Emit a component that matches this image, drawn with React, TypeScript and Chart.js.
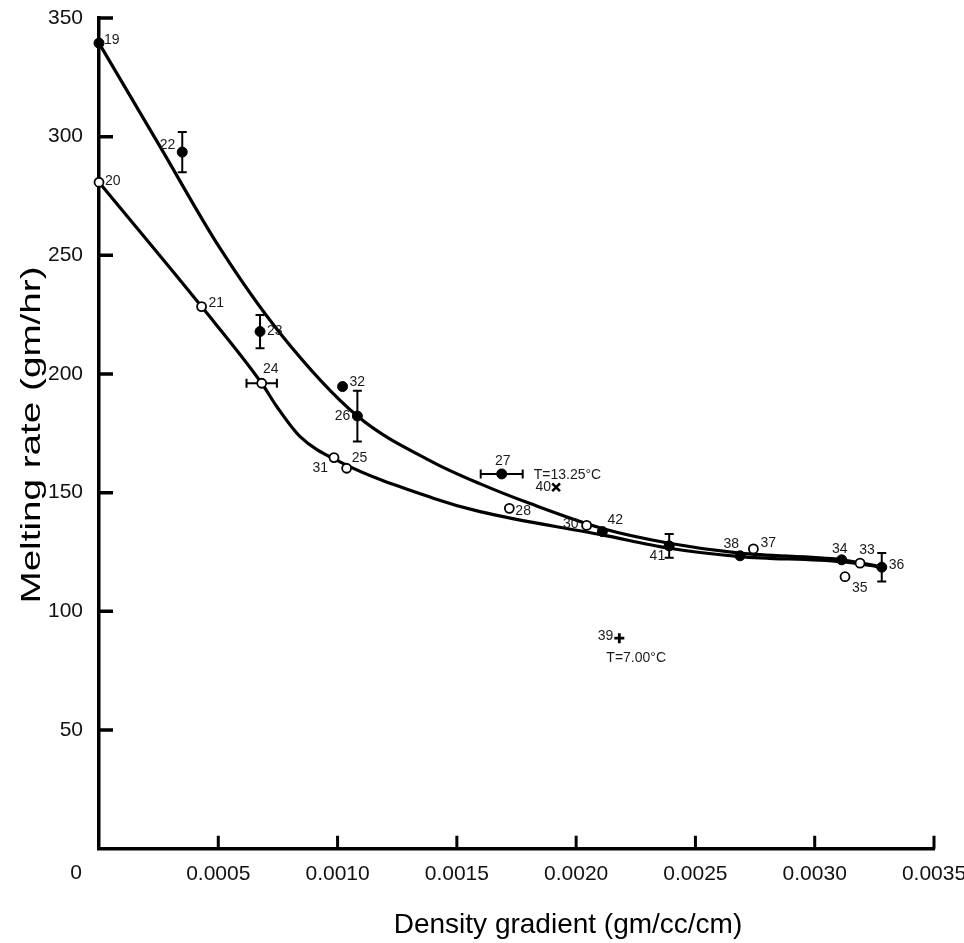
import React, { useEffect, useRef } from 'react';
import { Chart, registerables } from 'chart.js';

Chart.register(...registerables);

// ---- Data ----
const xTickValues = [0.0005, 0.001, 0.0015, 0.002, 0.0025, 0.003, 0.0035];
const yTickValues = [50, 100, 150, 200, 250, 300, 350];

// Closed circles (run numbers)
const closedLabels = ['19', '22', '23', '32', '26', '27', '42', '41', '38', '34', '36'];
const closedX = [0, 0.000349, 0.000675, 0.001021, 0.001083, 0.001688, 0.00211, 0.00239, 0.002687, 0.003113, 0.003281];
const closedY = [339.4, 293.5, 217.9, 194.7, 182.3, 157.9, 133.6, 127.6, 123.4, 121.7, 118.6];
const closedYErr = [0, 8.5, 7, 0, 10.7, 0, 0, 5, 0, 0, 6];
const closedXErr = [0, 0, 0, 0, 0, 0.000088, 0, 0, 0, 0, 0];

// Open circles
const openLabels = ['20', '21', '24', '31', '25', '28', '30', '37', '33', '35'];
const openX = [0, 0.00043, 0.000682, 0.000985, 0.001038, 0.00172, 0.002044, 0.002743, 0.00319, 0.003127];
const openY = [280.8, 228.4, 196.1, 164.8, 160.3, 143.4, 136.2, 126.3, 120.3, 114.6];
const openXErr = [0, 0, 0.0000637, 0, 0, 0, 0, 0, 0, 0];

// Special runs
const crossLabels = ['40'];
const crossX = [0.001916];
const crossY = [152.3];
const plusLabels = ['39'];
const plusX = [0.002181];
const plusY = [88.7];

// Temperature notes, attached to runs
const noteTexts = ['T=13.25°C', 'T=7.00°C'];
const noteRuns = ['27', '39'];

// Fitted curves
const upperCurveX = [0, 0.000256, 0.000507, 0.000759, 0.001083, 0.001401, 0.001601, 0.001807, 0.00211, 0.00239, 0.002686, 0.003113, 0.003281];
const upperCurveY = [339.4, 295.8, 253.0, 217.2, 182.3, 162.8, 153.6, 145.4, 134.9, 128.7, 124.5, 121.7, 118.8];
const lowerCurveX = [0, 0.00043, 0.000682, 0.000745, 0.000843, 0.00101, 0.001401, 0.001597, 0.00211, 0.00239, 0.002686, 0.003113, 0.003281];
const lowerCurveY = [280.8, 228.4, 196.1, 186.3, 173.6, 163.0, 147.7, 142.0, 132.2, 126.6, 123.1, 120.9, 118.6];

const xTitle = 'Density gradient (gm/cc/cm)';
const yTitle = 'Melting rate (gm/hr)';
const originLabel = '0';

// ---- Styling / placement ----
const FONT = '"Liberation Sans", Arial, Helvetica, sans-serif';
type Place = { dx: number; dy: number; align: CanvasTextAlign };
const labelPlacement: Record<string, Place> = {
  '19': { dx: 5, dy: -3, align: 'left' },
  '22': { dx: -7, dy: -7, align: 'right' },
  '23': { dx: 7, dy: 0, align: 'left' },
  '32': { dx: 7, dy: -4, align: 'left' },
  '26': { dx: -7, dy: 0, align: 'right' },
  '27': { dx: 1, dy: -13, align: 'center' },
  '42': { dx: 5, dy: -11, align: 'left' },
  '41': { dx: -4, dy: 10, align: 'right' },
  '38': { dx: -1, dy: -12, align: 'right' },
  '34': { dx: -2, dy: -11, align: 'center' },
  '36': { dx: 7, dy: -2, align: 'left' },
  '20': { dx: 6, dy: -1, align: 'left' },
  '21': { dx: 7, dy: -3, align: 'left' },
  '24': { dx: 9, dy: -14, align: 'center' },
  '31': { dx: -6, dy: 11, align: 'right' },
  '25': { dx: 5, dy: -10, align: 'left' },
  '28': { dx: 6, dy: 3, align: 'left' },
  '30': { dx: -8, dy: -1, align: 'right' },
  '37': { dx: 7, dy: -6, align: 'left' },
  '33': { dx: 7, dy: -13, align: 'center' },
  '35': { dx: 7, dy: 11, align: 'left' },
  '40': { dx: -5, dy: 0, align: 'right' },
  '39': { dx: -6, dy: -2, align: 'right' },
};
const notePlacement: Place[] = [
  { dx: 32, dy: 1, align: 'left' },
  { dx: -13, dy: 20, align: 'left' },
];

const zip = (xs: number[], ys: number[]) => xs.map((x, i) => ({ x, y: ys[i] }));

const annotatePlugin = {
  id: 'annotate',
  beforeDatasetsDraw(chart: any) {
    const { ctx, scales } = chart;
    const sx = scales.x;
    const sy = scales.y;
    ctx.save();
    ctx.strokeStyle = '#000';
    ctx.lineWidth = 2;
    const cap = 4.5;
    const drawErr = (vx: number, vy: number, ex: number, ey: number) => {
      const px = sx.getPixelForValue(vx);
      const py = sy.getPixelForValue(vy);
      ctx.beginPath();
      if (ey > 0) {
        const t = sy.getPixelForValue(vy + ey);
        const b = sy.getPixelForValue(vy - ey);
        ctx.moveTo(px, t); ctx.lineTo(px, b);
        ctx.moveTo(px - cap, t); ctx.lineTo(px + cap, t);
        ctx.moveTo(px - cap, b); ctx.lineTo(px + cap, b);
      }
      if (ex > 0) {
        const l = sx.getPixelForValue(vx - ex);
        const r = sx.getPixelForValue(vx + ex);
        ctx.moveTo(l, py); ctx.lineTo(r, py);
        ctx.moveTo(l, py - cap); ctx.lineTo(l, py + cap);
        ctx.moveTo(r, py - cap); ctx.lineTo(r, py + cap);
      }
      ctx.stroke();
    };
    closedX.forEach((x, i) => drawErr(x, closedY[i], closedXErr[i], closedYErr[i]));
    openX.forEach((x, i) => drawErr(x, openY[i], openXErr[i], 0));
    ctx.restore();
  },
  afterDatasetsDraw(chart: any) {
    const { ctx, scales } = chart;
    const sx = scales.x;
    const sy = scales.y;
    ctx.save();
    ctx.font = `14px ${FONT}`;
    ctx.fillStyle = '#1a1a1a';
    ctx.textBaseline = 'middle';
    const pos: Record<string, [number, number]> = {};
    const put = (labels: string[], xs: number[], ys: number[]) => {
      labels.forEach((lab, i) => {
        const px = sx.getPixelForValue(xs[i]);
        const py = sy.getPixelForValue(ys[i]);
        pos[lab] = [px, py];
        const p = labelPlacement[lab] || { dx: 6, dy: 0, align: 'left' };
        ctx.textAlign = p.align;
        ctx.fillText(lab, px + p.dx, py + p.dy);
      });
    };
    put(closedLabels, closedX, closedY);
    put(openLabels, openX, openY);
    put(crossLabels, crossX, crossY);
    put(plusLabels, plusX, plusY);
    noteTexts.forEach((t, i) => {
      const anchor = pos[noteRuns[i]];
      if (!anchor) return;
      const p = notePlacement[i];
      ctx.textAlign = p.align;
      ctx.fillText(t, anchor[0] + p.dx, anchor[1] + p.dy);
    });
    ctx.restore();
  },
  afterDraw(chart: any) {
    const { ctx, scales, chartArea } = chart;
    const sx = scales.x;
    const sy = scales.y;
    ctx.save();
    ctx.strokeStyle = '#000';
    // inward tick marks
    ctx.lineWidth = 3.5;
    ctx.beginPath();
    yTickValues.forEach((v) => {
      const py = sy.getPixelForValue(v);
      ctx.moveTo(chartArea.left, py);
      ctx.lineTo(chartArea.left + 14, py);
    });
    ctx.stroke();
    ctx.lineWidth = 3;
    ctx.beginPath();
    xTickValues.forEach((v) => {
      const px = sx.getPixelForValue(v);
      ctx.moveTo(px, chartArea.bottom);
      ctx.lineTo(px, chartArea.bottom - 13);
    });
    ctx.stroke();
    // origin label
    ctx.fillStyle = '#111';
    ctx.font = `21px ${FONT}`;
    ctx.textAlign = 'center';
    ctx.textBaseline = 'middle';
    ctx.fillText(originLabel, chartArea.left - 23, chartArea.bottom + 25);
    // axis titles
    ctx.fillStyle = '#000';
    ctx.font = `28px ${FONT}`;
    ctx.textAlign = 'center';
    ctx.textBaseline = 'alphabetic';
    ctx.fillText(xTitle, 568, 933);
    ctx.translate(40, 435);
    ctx.rotate(-Math.PI / 2);
    ctx.scale(1.38, 1);
    ctx.fillText(yTitle, 0, 0);
    ctx.restore();
  },
};

export default function App() {
  const ref = useRef<HTMLCanvasElement>(null);
  useEffect(() => {
    if (!ref.current) return;
    const tickFont = { family: FONT, size: 21 };
    const chart = new Chart(ref.current, {
      type: 'scatter',
      data: {
        datasets: [
          {
            label: 'closed',
            data: zip(closedX, closedY),
            pointStyle: 'circle',
            pointRadius: 5,
            pointBackgroundColor: '#000',
            pointBorderColor: '#000',
            pointBorderWidth: 1,
            clip: false,
            order: 0,
          },
          {
            label: 'open',
            data: zip(openX, openY),
            pointStyle: 'circle',
            pointRadius: 4.5,
            pointBackgroundColor: '#fff',
            pointBorderColor: '#000',
            pointBorderWidth: 1.8,
            clip: false,
            order: 0,
          },
          {
            label: 'cross',
            data: zip(crossX, crossY),
            pointStyle: 'crossRot',
            pointRadius: 5.5,
            pointBorderColor: '#000',
            pointBorderWidth: 2.6,
            clip: false,
            order: 0,
          },
          {
            label: 'plus',
            data: zip(plusX, plusY),
            pointStyle: 'cross',
            pointRadius: 5,
            pointBorderColor: '#000',
            pointBorderWidth: 2.8,
            clip: false,
            order: 0,
          },
          {
            label: 'upper',
            data: zip(upperCurveX, upperCurveY),
            showLine: true,
            pointRadius: 0,
            borderColor: '#000',
            borderWidth: 3.2,
            cubicInterpolationMode: 'monotone',
            clip: false,
            order: 1,
          },
          {
            label: 'lower',
            data: zip(lowerCurveX, lowerCurveY),
            showLine: true,
            pointRadius: 0,
            borderColor: '#000',
            borderWidth: 3.2,
            cubicInterpolationMode: 'monotone',
            clip: false,
            order: 1,
          },
        ] as any,
      },
      options: {
        animation: false,
        responsive: false,
        devicePixelRatio: window.devicePixelRatio || 1,
        layout: { padding: { top: 18, right: 30, left: 0, bottom: 0 } },
        plugins: { legend: { display: false }, tooltip: { enabled: false } },
        scales: {
          x: {
            type: 'linear',
            min: 0,
            max: 0.0035,
            afterBuildTicks: (s: any) => {
              s.ticks = [0, ...xTickValues].map((v) => ({ value: v }));
            },
            afterFit: (s: any) => {
              s.height = 94.3;
              s.paddingLeft = 0;
              s.paddingRight = 0;
            },
            ticks: {
              autoSkip: false,
              maxRotation: 0,
              padding: 13,
              color: '#111',
              font: tickFont,
              callback: (v: any) => (Number(v) === 0 ? '' : Number(v).toFixed(4)),
            },
            grid: { display: false, drawTicks: false },
            border: { display: true, color: '#000', width: 3.5 },
          },
          y: {
            type: 'linear',
            min: 0,
            max: 350,
            afterBuildTicks: (s: any) => {
              s.ticks = [0, ...yTickValues].map((v) => ({ value: v }));
            },
            afterFit: (s: any) => {
              s.width = 99;
              s.paddingTop = 0;
              s.paddingBottom = 0;
            },
            ticks: {
              autoSkip: false,
              padding: 16,
              color: '#111',
              font: tickFont,
              callback: (v: any) => (Number(v) === 0 ? '' : String(v)),
            },
            grid: { display: false, drawTicks: false },
            border: { display: true, color: '#000', width: 3.5 },
          },
        },
      } as any,
      plugins: [annotatePlugin],
    });
    return () => chart.destroy();
  }, []);
  return (
    <div style={{ position: 'absolute', left: 0, top: 0, width: 964, height: 943, background: '#fff' }}>
      <canvas ref={ref} width={964} height={943} style={{ display: 'block', width: 964, height: 943 }} />
    </div>
  );
}
